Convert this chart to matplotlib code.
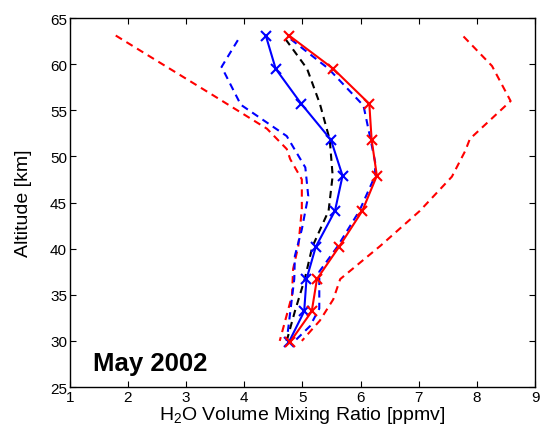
import numpy as np
import matplotlib
matplotlib.use("Agg")
import matplotlib.pyplot as plt

plt.rcParams['font.family'] = ['Liberation Sans', 'DejaVu Sans']
plt.rcParams['mathtext.default'] = 'regular'

# marker altitudes [km]
alt = [63.1, 59.5, 55.7, 51.8, 47.9, 44.1, 40.2, 36.7, 33.2, 29.9]
blue_mean = [4.37, 4.54, 4.98, 5.49, 5.69, 5.56, 5.23, 5.07, 5.03, 4.77]
red_mean = [4.77, 5.53, 6.15, 6.19, 6.28, 6.03, 5.63, 5.25, 5.16, 4.79]

black_alt = [62.7, 59.5, 55.7, 51.8, 47.9, 44.1, 40.2, 36.7, 33.2, 30.0]
black_x = [4.71, 5.08, 5.30, 5.47, 5.52, 5.45, 5.17, 5.04, 4.87, 4.73]

blue_lo_alt = [62.6, 59.7, 55.6, 52.2, 48.8, 45.7, 42.1, 39.2, 36.7, 33.1, 30.0]
blue_lo_x = [3.89, 3.61, 3.94, 4.73, 5.05, 5.10, 4.99, 4.87, 4.86, 4.79, 4.73]

blue_hi_alt = [62.7, 59.5, 55.5, 52.2, 49.4, 47.9, 44.1, 40.2, 37.5, 33.5, 31.6, 30.0]
blue_hi_x = [4.80, 5.45, 6.05, 6.16, 6.25, 6.25, 5.98, 5.60, 5.29, 5.29, 5.13, 4.87]

red_lo_alt = [63.1, 59.5, 56.6, 53.0, 50.8, 49.7, 47.5, 44.3, 40.3, 37.8, 34.9, 30.0]
red_lo_x = [1.79, 2.72, 3.47, 4.39, 4.73, 4.79, 4.99, 4.99, 4.93, 4.84, 4.82, 4.61]

red_hi_alt = [63.0, 59.8, 56.0, 51.9, 50.6, 47.8, 44.1, 40.3, 36.7, 34.5, 32.2, 30.0]
red_hi_x = [7.77, 8.26, 8.58, 7.88, 7.80, 7.57, 7.02, 6.34, 5.65, 5.53, 5.30, 4.99]

fig = plt.figure(figsize=(5.41, 4.27), dpi=100)
ax = fig.add_axes([0.129, 0.0913, 0.86, 0.8642])

dash = (0, (3.5, 2.5))
ax.plot(red_lo_x, red_lo_alt, color='red', ls=dash, lw=1.5)
ax.plot(red_hi_x, red_hi_alt, color='red', ls=dash, lw=1.5)
ax.plot(blue_lo_x, blue_lo_alt, color='blue', ls=dash, lw=1.5)
ax.plot(blue_hi_x, blue_hi_alt, color='blue', ls=dash, lw=1.5)
ax.plot(black_x, black_alt, color='black', ls=dash, lw=1.5)
ax.plot(blue_mean, alt, color='blue', lw=1.5, marker='x', ms=7, mew=1.5)
ax.plot(red_mean, alt, color='red', lw=1.5, marker='x', ms=7, mew=1.5)

ax.set_xlim(1, 9)
ax.set_ylim(25, 65)
ax.set_xticks(range(1, 10))
ax.set_yticks(range(25, 66, 5))
ax.tick_params(direction='in', top=True, right=True, labelsize=11, length=4, pad=2)
for s in ax.spines.values():
    s.set_linewidth(1.0)

ax.set_xlabel('H$_2$O Volume Mixing Ratio [ppmv]', fontsize=14, labelpad=0)
ax.set_ylabel('Altitude [km]', fontsize=14, labelpad=13)
ax.text(1.4, 27.6, 'May 2002', fontsize=18.5, fontweight='bold', va='center')

fig.savefig('out.png', dpi=100)
